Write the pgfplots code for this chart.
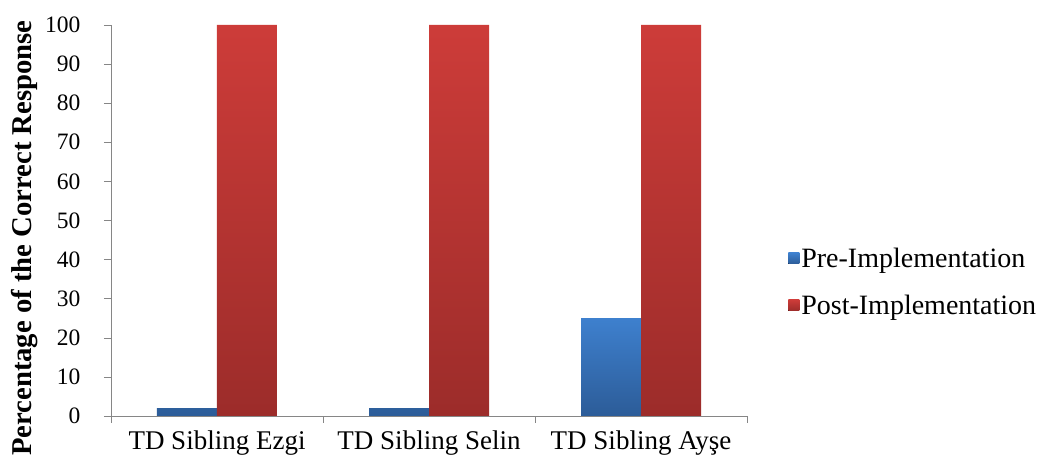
\documentclass[border=0pt]{standalone}
\usepackage{fontspec}
\setmainfont{Liberation Serif}
\usepackage{pgfplots}
\pgfplotsset{compat=1.18}

\definecolor{preTop}{RGB}{62,128,206}
\definecolor{preBot}{RGB}{44,92,152}
\definecolor{postTop}{RGB}{205,60,57}
\definecolor{postBot}{RGB}{156,44,42}
\definecolor{axgray}{RGB}{134,134,134}

\begin{document}
\begin{tikzpicture}
\begin{axis}[
    name=ax,
    scale only axis,
    width=636bp, height=391bp,
    ybar=0pt,
    bar width=60bp,
    xmin=-0.5, xmax=2.5,
    ymin=0, ymax=100,
    xtick={0,1,2},
    xticklabels={TD Sibling Ezgi,TD Sibling Selin,TD Sibling Ayşe},
    major x tick style={draw=none},
    minor xtick={-0.5,0.5,1.5,2.5},
    minor tick length=7bp,
    ytick={0,10,...,100},
    major tick length=7bp,
    tick align=outside,
    tick pos=left,
    axis lines*=left,
    axis line style={axgray},
    every tick/.style={axgray},
    /pgf/number format/assume math mode=true,
    yticklabel style={font=\fontsize{23.5bp}{26bp}\selectfont, xshift=-20bp},
    xticklabel style={font=\fontsize{27bp}{30bp}\selectfont, yshift=-4bp},
    ylabel={\bfseries Percentage of the Correct Response},
    ylabel style={at={(axis description cs:-0.136,0.455)}, anchor=center,
        font=\fontsize{28.7bp}{31bp}\selectfont},
    legend style={draw=none, at={(1.06,0.343)}, anchor=west,
        row sep=22bp, font=\fontsize{28bp}{31bp}\selectfont},
    legend cell align=left,
    legend image code/.code={\fill[#1] (0bp,-5.5bp) rectangle (11bp,5.5bp);},
]
\addplot[draw=none, top color=preTop, bottom color=preBot]
    coordinates {(0,2) (1,2) (2,25)};
\addplot[draw=none, top color=postTop, bottom color=postBot]
    coordinates {(0,100) (1,100) (2,100)};
\legend{Pre-Implementation,Post-Implementation}
\end{axis}
\pgfresetboundingbox
\path ([shift={(-111bp,-45bp)}]ax.south west) rectangle ([shift={(299bp,25bp)}]ax.north east);
\end{tikzpicture}
\end{document}
